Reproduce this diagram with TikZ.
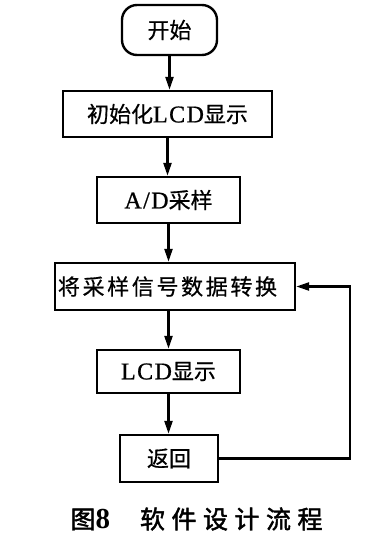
\documentclass[tikz,border=0pt]{standalone}
\usepackage{fontspec}
\setmainfont{Liberation Serif}
\newfontfamily\cjk[FakeBold=0.6]{Noto Sans CJK SC}
\newfontfamily\cjkwide[LetterSpace=12,FakeBold=0.6]{Noto Sans CJK SC}
\newfontfamily\capcjk[LetterSpace=26,FakeBold=1.8]{Noto Sans CJK SC}
\newfontfamily\latwide[LetterSpace=6,FakeBold=0.8]{Liberation Serif}
\usetikzlibrary{arrows.meta}
\newcommand{\zh}[1]{{\cjk #1}}
\newcommand{\la}[1]{{\fontsize{24pt}{26pt}\latwide #1}}
\tikzset{
  x=1pt,y=1pt,
  flowbox/.style={draw,line width=2.4pt,minimum width=#1,inner sep=0pt,font=\fontsize{22pt}{24pt}\selectfont},
  startbox/.style={draw,line width=2.4pt,rounded corners=15pt,inner sep=0pt,font=\fontsize{22pt}{24pt}\selectfont},
  flowarrow/.style={line width=2.4pt,-{Triangle[length=13pt,width=8pt]}}
}
\begin{document}
\begin{tikzpicture}
\useasboundingbox (0,0) rectangle (365,-549);
\node[startbox,minimum width=95pt,minimum height=50pt] (start) at (169.5,-30) {\zh{开始}};
\node[flowbox=209pt,minimum height=46pt] (init) at (167.5,-114) {\zh{初始化}\la{LCD}\zh{显示}};
\node[flowbox=143pt,minimum height=46pt] (ad) at (168.5,-200) {\la{A/D}\zh{采样}};
\node[flowbox=240pt,minimum height=47pt] (conv) at (175,-286.5) {{\cjkwide 将采样信号数据转换}\hspace*{15pt}};
\node[flowbox=143pt,minimum height=43pt] (lcd) at (168.5,-371.5) {\la{LCD}\zh{显示}};
\node[flowbox=98pt,minimum height=47pt] (ret) at (169,-458.5) {\zh{返回}};
\coordinate (loopc) at (350,-458.5);
\draw[flowarrow] (start.south) -- (start.south |- init.north);
\draw[flowarrow] (init.south) -- (init.south |- ad.north);
\draw[flowarrow] (ad.south) -- (ad.south |- conv.north);
\draw[flowarrow] (ad.south |- conv.south) -- (ad.south |- lcd.north);
\draw[flowarrow] (lcd.south) -- (lcd.south |- ret.north);
\draw[flowarrow] (ret.east) -- (loopc) |- (conv.east);
\node[inner sep=0pt] (cap) at (196.5,-519) {{\fontsize{25pt}{27pt}\capcjk 图}{\fontsize{29pt}{30pt}\bfseries 8}\hspace{30pt}{\fontsize{25pt}{27pt}\capcjk 软件设计流程}};
\end{tikzpicture}
\end{document}
